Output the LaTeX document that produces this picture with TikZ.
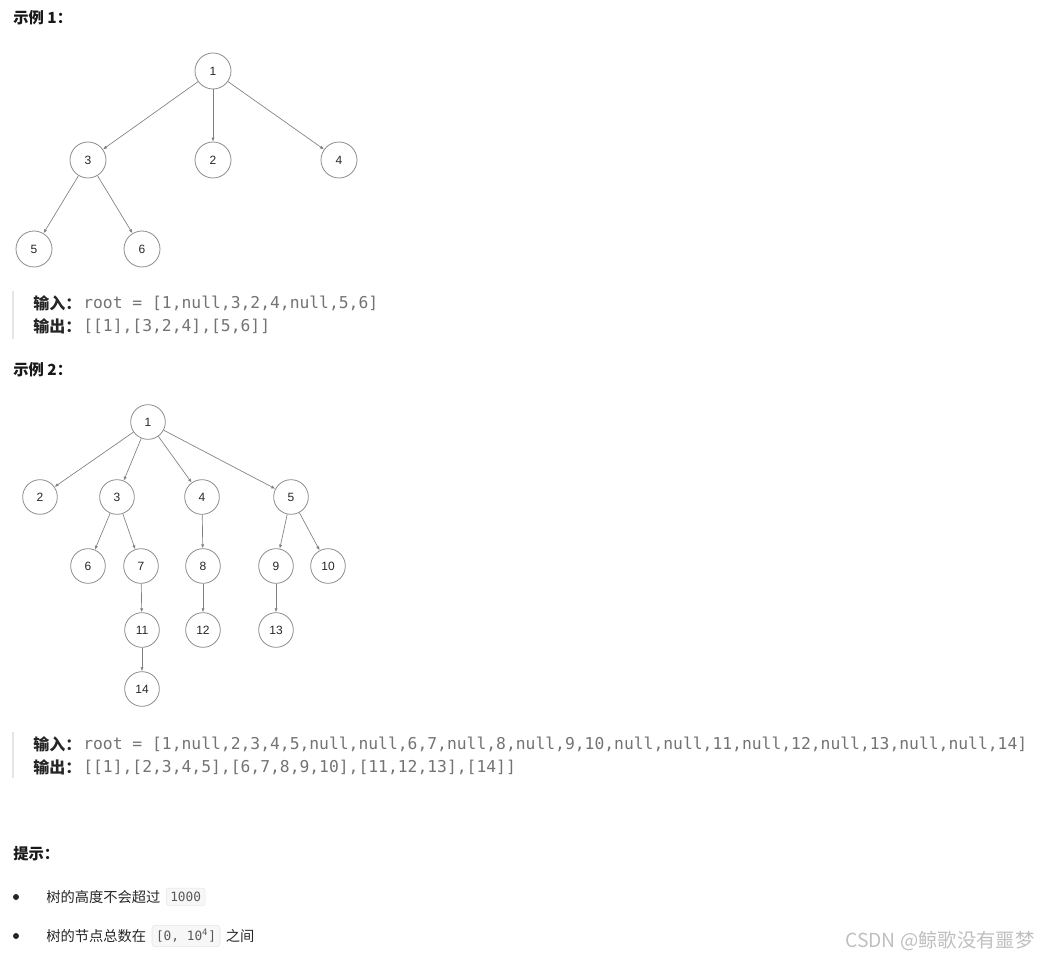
\documentclass[tikz,border=0pt]{standalone}
\usepackage{fontspec}
\setmainfont{Liberation Sans}
\setmonofont{DejaVu Sans Mono}
\newfontfamily\cjk{Noto Sans CJK SC}
\usetikzlibrary{positioning,arrows.meta}

\tikzset{
  tnode/.style={circle,draw=black!45,line width=0.6pt,minimum size=27pt,inner sep=0pt,
    font=\fontsize{9}{9}\selectfont,text=black!85},
  tnodeb/.style={tnode,minimum size=26pt},
  tedge/.style={->,draw=black!50,line width=0.5pt},
  hdr/.style={anchor=west,inner sep=0pt,font=\cjk\bfseries\fontsize{11.5}{13}\selectfont,text=black!90},
  iolabel/.style={anchor=west,inner sep=0pt,font=\cjk\bfseries\fontsize{12}{14}\selectfont,text=black!85},
  iotext/.style={anchor=west,inner sep=0pt,font=\ttfamily\fontsize{12.25}{14}\selectfont,text=black!55},
  quotebar/.style={draw=black!10,line width=1.5pt},
  hint/.style={anchor=west,inner sep=0pt,font=\cjk\fontsize{10.7}{13}\selectfont,text=black!85},
  codebox/.style={anchor=west,draw=black!10,fill=black!3,rounded corners=2pt,inner xsep=3pt,inner ysep=3pt,
    font=\ttfamily\fontsize{9.6}{11}\selectfont,text=black!65},
  dot/.style={circle,fill=black!85,inner sep=0pt,minimum size=4.5pt},
}

\begin{document}
\begin{tikzpicture}[x=0.75pt,y=-0.75pt,>={Latex[length=3pt,width=2.4pt]}]
  \useasboundingbox (0,0) rectangle (1039,959);
  % 示例 1
  \node[hdr] (hdr1) at (13,18) {示例 1：};
  \node[tnode] (a1) at (213,71) {1};
  \node[tnode] (a3) at (88,160) {3};
  \node[tnode] (a2) at (213,160) {2};
  \node[tnode] (a4) at (339,160) {4};
  \node[tnode] (a5) at (34,249) {5};
  \node[tnode] (a6) at (142,249) {6};
  \draw[tedge] (a1) -- (a3);
  \draw[tedge] (a1) -- (a2);
  \draw[tedge] (a1) -- (a4);
  \draw[tedge] (a3) -- (a5);
  \draw[tedge] (a3) -- (a6);
  % 输入输出 1
  \draw[quotebar] (13,291) -- (13,339);
  \node[iolabel] (in1lbl) at (33,303) {输入：};
  \node[iotext] (in1) at (83,303) {root = [1,null,3,2,4,null,5,6]};
  \node[iolabel] (out1lbl) at (33,326) {输出：};
  \node[iotext] (out1) at (83,326) {[[1],[3,2,4],[5,6]]};
  % 示例 2
  \node[hdr] (hdr2) at (13,370) {示例 2：};
  \node[tnodeb] (b1) at (148,422) {1};
  \node[tnodeb] (b2) at (40,497) {2};
  \node[tnodeb] (b3) at (117,497) {3};
  \node[tnodeb] (b4) at (202,497) {4};
  \node[tnodeb] (b5) at (291,497) {5};
  \node[tnodeb] (b6) at (88,566) {6};
  \node[tnodeb] (b7) at (141,566) {7};
  \node[tnodeb] (b8) at (203,566) {8};
  \node[tnodeb] (b9) at (276,566) {9};
  \node[tnodeb] (b10) at (328,566) {10};
  \node[tnodeb] (b11) at (142,630) {11};
  \node[tnodeb] (b12) at (203,630) {12};
  \node[tnodeb] (b13) at (276,630) {13};
  \node[tnodeb] (b14) at (142,689) {14};
  \draw[tedge] (b1) -- (b2);
  \draw[tedge] (b1) -- (b3);
  \draw[tedge] (b1) -- (b4);
  \draw[tedge] (b1) -- (b5);
  \draw[tedge] (b3) -- (b6);
  \draw[tedge] (b3) -- (b7);
  \draw[tedge] (b4) -- (b8);
  \draw[tedge] (b5) -- (b9);
  \draw[tedge] (b5) -- (b10);
  \draw[tedge] (b7) -- (b11);
  \draw[tedge] (b8) -- (b12);
  \draw[tedge] (b9) -- (b13);
  \draw[tedge] (b11) -- (b14);
  % 输入输出 2
  \draw[quotebar] (13,732) -- (13,778);
  \node[iolabel] (in2lbl) at (33,744) {输入：};
  \node[iotext] (in2) at (83,744) {root = [1,null,2,3,4,5,null,null,6,7,null,8,null,9,10,null,null,11,null,12,null,13,null,null,14]};
  \node[iolabel] (out2lbl) at (33,767) {输出：};
  \node[iotext] (out2) at (83,767) {[[1],[2,3,4,5],[6,7,8,9,10],[11,12,13],[14]]};
  % 提示
  \node[hdr] (hdr3) at (13,854) {提示：};
  \node[dot] (bl1) at (16,897) {};
  \node[hint] (hint1) at (46,897) {树的高度不会超过};
  \node[codebox,right=4pt of hint1] (code1) {1000};
  \node[dot] (bl2) at (16,936) {};
  \node[hint] (hint2) at (46,936) {树的节点总数在};
  \node[codebox,right=4pt of hint2] (code2) {[0, 10\textsuperscript{4}]};
  \node[hint,right=4pt of code2] (hint3) {之间};
  % 水印
  \node[anchor=west,inner sep=0pt,font=\cjk\fontsize{14.5}{16}\selectfont,text=black!25] (mark) at (845,941) {CSDN @鲸歌没有噩梦};
\end{tikzpicture}
\end{document}
